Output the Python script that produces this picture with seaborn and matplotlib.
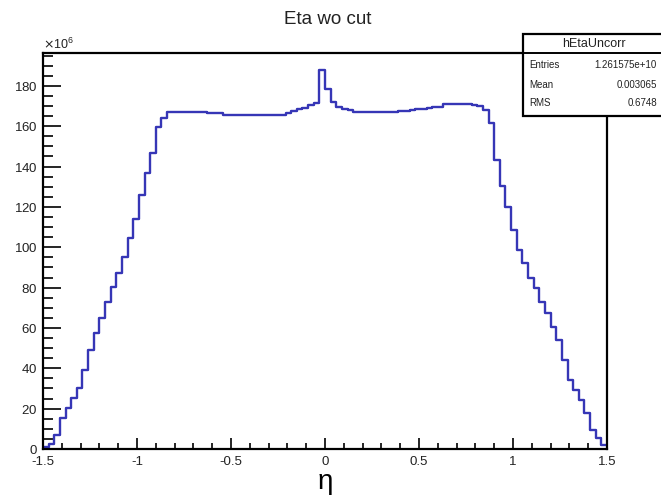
import numpy as np
import pandas as pd
import matplotlib
matplotlib.use("Agg")
import matplotlib.pyplot as plt
import seaborn as sns
from matplotlib.ticker import MultipleLocator, ScalarFormatter, FuncFormatter
from matplotlib.patches import Rectangle
from matplotlib.lines import Line2D

# ---- data (counts per bin, in units of 10^6) ----
eta_min, eta_max, n_bins = -1.5, 1.5, 100
counts_millions = [
    1.0, 2.5, 7.0, 15.4, 20.3, 25.3, 30.2, 39.2, 49.1, 57.5,
    65.0, 72.9, 80.3, 87.3, 95.2, 104.6, 114.0, 125.9, 136.8, 146.8,
    159.6, 164.1, 167.1, 167.1, 167.0, 167.0, 166.9, 166.9, 166.9, 166.8,
    166.6, 166.4, 165.8, 165.6, 165.6, 165.6, 165.6, 165.6, 165.6, 165.6,
    165.6, 165.7, 165.8, 166.4, 167.6, 168.6, 169.1, 170.3, 171.5, 187.9,
    178.5, 172.0, 169.6, 168.6, 168.1, 167.1, 166.9, 166.9, 166.9, 166.9,
    166.9, 166.9, 167.1, 167.6, 167.6, 167.8, 168.6, 168.6, 168.8, 169.3,
    169.3, 170.9, 170.9, 170.9, 170.9, 170.9, 170.6, 169.9, 167.8, 161.6,
    143.3, 130.4, 120.0, 108.6, 98.7, 92.2, 84.6, 79.6, 73.1, 67.2,
    60.5, 54.0, 44.1, 34.2, 29.2, 24.3, 17.8, 9.4, 5.4, 2.0,
]
title = "Eta wo cut"
x_label = "η"
stats_name = "hEtaUncorr"
stats_rows = [("Entries", "1.261575e+10"), ("Mean", "0.003065"), ("RMS", "0.6748")]

edges = np.linspace(eta_min, eta_max, n_bins + 1)
centers = 0.5 * (edges[:-1] + edges[1:])
df = pd.DataFrame({"eta": centers, "w": np.array(counts_millions) * 1e6})

# ---- style ----
sns.set_style("ticks")
plt.rcParams["font.family"] = ["Liberation Sans", "DejaVu Sans"]
plt.rcParams["axes.unicode_minus"] = False

W, H = 661, 500
fig = plt.figure(figsize=(W / 100, H / 100), dpi=100)
left, right, top, bottom = 43, 607, 53, 449
ax = fig.add_axes([left / W, 1 - bottom / H, (right - left) / W, (bottom - top) / H])

line_color = "#3636b6"
sns.histplot(data=df, x="eta", weights="w", bins=n_bins, binrange=(eta_min, eta_max),
             element="step", fill=False, color=line_color, linewidth=1.7, ax=ax)

ax.set_xlim(eta_min, eta_max)
ax.set_ylim(0, 196.3e6)

for s in ax.spines.values():
    s.set_visible(True)
    s.set_linewidth(1.6)
    s.set_color("black")

ax.xaxis.set_major_locator(MultipleLocator(0.5))
ax.xaxis.set_minor_locator(MultipleLocator(0.1))
ax.yaxis.set_major_locator(MultipleLocator(20e6))
ax.yaxis.set_minor_locator(MultipleLocator(5e6))
ax.xaxis.set_major_formatter(FuncFormatter(lambda v, p: "%g" % round(v, 3)))
fmt = ScalarFormatter(useMathText=True)
fmt.set_powerlimits((6, 6))
ax.yaxis.set_major_formatter(fmt)

tick_col = "#222222"
ax.tick_params(axis="both", which="both", direction="in", top=False, right=False,
               color="black", labelcolor=tick_col, labelsize=9.5, width=1.2)
ax.tick_params(axis="x", which="major", length=8, pad=5)
ax.tick_params(axis="x", which="minor", length=4)
ax.tick_params(axis="y", which="major", length=13, pad=4)
ax.tick_params(axis="y", which="minor", length=7)
ot = ax.yaxis.get_offset_text()
ot.set_fontsize(9)
ot.set_color(tick_col)

ax.set_ylabel("")
ax.set_xlabel(x_label, fontsize=20, labelpad=1, color="black")

# title
fig.text(328 / W, 1 - 19 / H, title, ha="center", va="center", fontsize=13.5, color="#222222")

# stats box (extends past the right edge, as in the reference)
bx0, bx1, by0, by1 = 523, 672, 34, 116
fig.patches.append(Rectangle((bx0 / W, 1 - by1 / H), (bx1 - bx0) / W, (by1 - by0) / H,
                             transform=fig.transFigure, facecolor="white",
                             edgecolor="black", linewidth=1.6, zorder=5))
fig.lines.append(Line2D([bx0 / W, bx1 / W], [1 - 53 / H, 1 - 53 / H],
                        transform=fig.transFigure, color="black", linewidth=1.4, zorder=6))
fig.text(594 / W, 1 - 44 / H, stats_name, ha="center", va="center", fontsize=9,
         color="#222222", zorder=7)
row_y = [65, 85, 103]
for (lab, val), yy in zip(stats_rows, row_y):
    fig.text(529 / W, 1 - yy / H, lab, ha="left", va="center", fontsize=7, color="#222222", zorder=7)
    fig.text(657 / W, 1 - yy / H, val, ha="right", va="center", fontsize=7, color="#222222", zorder=7)

fig.savefig("out.png", dpi=100)
